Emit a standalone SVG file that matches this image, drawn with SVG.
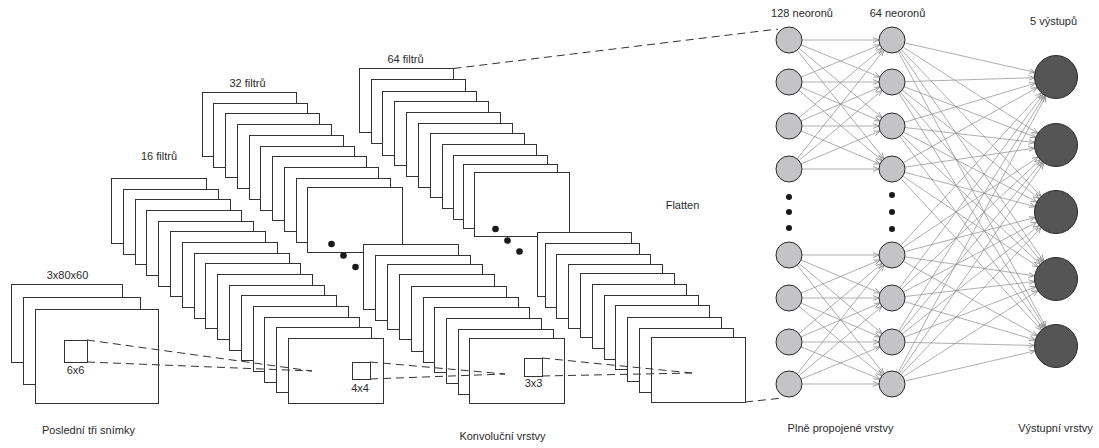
<svg xmlns="http://www.w3.org/2000/svg" width="1099" height="448" viewBox="0 0 1099 448">
<style>
.bg{fill:#fff}
.fr{fill:#fff;stroke:#333;stroke-width:1}
.sq{fill:none;stroke:#333;stroke-width:1}
.dot{fill:#1a1a1a}
.dash{fill:none;stroke:#333;stroke-width:1;stroke-dasharray:8 5}
.t{font-family:"Liberation Sans",Arial,sans-serif;font-size:11px;fill:#2a2a2a;text-anchor:middle}
.e{stroke:#8c8c8c;stroke-width:0.7;fill:none;marker-end:url(#arr)}
.n{fill:#c4c4c6;stroke:#2a2a2a;stroke-width:1}
.o{fill:#555;stroke:#2a2a2a;stroke-width:1}
</style>
<defs>
<marker id="arr" markerWidth="8" markerHeight="8" refX="6" refY="3" orient="auto" markerUnits="userSpaceOnUse"><path d="M0,0.6 L6,3 L0,5.4" fill="none" stroke="#8c8c8c" stroke-width="0.8"/></marker>
</defs>
<rect class="bg" x="0" y="0" width="1099" height="448"/>

<g id="input" transform="translate(0.5 0.5)">
<rect class="fr" x="11" y="284" width="111" height="78"/>
<rect class="fr" x="23" y="297" width="117" height="87"/>
<rect class="fr" x="35" y="309" width="123" height="94"/>
</g>

<g id="conv16" transform="translate(0.5 0.5)">
<rect class="fr" x="111" y="178" width="95" height="65"/>
<rect class="fr" x="123" y="189" width="95" height="65"/>
<rect class="fr" x="135" y="199" width="95" height="65"/>
<rect class="fr" x="146" y="210" width="95" height="65"/>
<rect class="fr" x="158" y="221" width="95" height="65"/>
<rect class="fr" x="170" y="231" width="95" height="65"/>
<rect class="fr" x="182" y="242" width="95" height="65"/>
<rect class="fr" x="194" y="253" width="95" height="65"/>
<rect class="fr" x="205" y="263" width="95" height="65"/>
<rect class="fr" x="217" y="274" width="95" height="65"/>
<rect class="fr" x="229" y="285" width="95" height="65"/>
<rect class="fr" x="241" y="295" width="95" height="65"/>
<rect class="fr" x="253" y="306" width="95" height="65"/>
<rect class="fr" x="264" y="317" width="95" height="65"/>
<rect class="fr" x="276" y="327" width="95" height="65"/>
<rect class="fr" x="288" y="338" width="95" height="65"/>
</g>

<g id="conv32" transform="translate(0.5 0.5)">
<rect class="fr" x="202" y="92" width="94" height="64"/>
<rect class="fr" x="213" y="103" width="94" height="64"/>
<rect class="fr" x="225" y="113" width="94" height="64"/>
<rect class="fr" x="237" y="124" width="94" height="64"/>
<rect class="fr" x="249" y="135" width="94" height="64"/>
<rect class="fr" x="260" y="146" width="94" height="64"/>
<rect class="fr" x="272" y="156" width="94" height="64"/>
<rect class="fr" x="284" y="167" width="94" height="64"/>
<rect class="fr" x="296" y="178" width="94" height="64"/>
<rect class="fr" x="307" y="187" width="95" height="65"/>
<circle class="dot" cx="331" cy="243.5" r="3.3"/>
<circle class="dot" cx="343" cy="255" r="3.3"/>
<circle class="dot" cx="355" cy="266.5" r="3.3"/>
<rect class="fr" x="363" y="244" width="95" height="65"/>
<rect class="fr" x="375" y="255" width="95" height="65"/>
<rect class="fr" x="387" y="264" width="95" height="65"/>
<rect class="fr" x="399" y="274" width="95" height="65"/>
<rect class="fr" x="411" y="286" width="95" height="65"/>
<rect class="fr" x="423" y="297" width="95" height="65"/>
<rect class="fr" x="434" y="307" width="95" height="65"/>
<rect class="fr" x="446" y="318" width="95" height="65"/>
<rect class="fr" x="458" y="329" width="95" height="65"/>
<rect class="fr" x="469" y="338" width="95" height="65"/>
</g>

<g id="conv64" transform="translate(0.5 0.5)">
<rect class="fr" x="359" y="68" width="94" height="64"/>
<rect class="fr" x="371" y="79" width="94" height="64"/>
<rect class="fr" x="382" y="91" width="94" height="64"/>
<rect class="fr" x="394" y="101" width="94" height="64"/>
<rect class="fr" x="406" y="112" width="94" height="64"/>
<rect class="fr" x="418" y="123" width="94" height="64"/>
<rect class="fr" x="430" y="133" width="94" height="64"/>
<rect class="fr" x="442" y="144" width="94" height="64"/>
<rect class="fr" x="453" y="155" width="94" height="64"/>
<rect class="fr" x="463" y="164" width="94" height="64"/>
<rect class="fr" x="474" y="172" width="95" height="64"/>
<circle class="dot" cx="495" cy="228.5" r="3.3"/>
<circle class="dot" cx="507" cy="240" r="3.3"/>
<circle class="dot" cx="519" cy="251" r="3.3"/>
<rect class="fr" x="537" y="232" width="94" height="64"/>
<rect class="fr" x="545" y="243" width="94" height="64"/>
<rect class="fr" x="556" y="254" width="94" height="64"/>
<rect class="fr" x="568" y="264" width="94" height="64"/>
<rect class="fr" x="580" y="273" width="94" height="64"/>
<rect class="fr" x="592" y="284" width="94" height="64"/>
<rect class="fr" x="604" y="295" width="94" height="64"/>
<rect class="fr" x="615" y="305" width="94" height="64"/>
<rect class="fr" x="627" y="317" width="94" height="64"/>
<rect class="fr" x="639" y="328" width="94" height="64"/>
<rect class="fr" x="651" y="337" width="94" height="65"/>
</g>

<g id="kernels" transform="translate(0.5 0.5)">
<rect class="sq" x="64" y="340" width="23" height="22"/>
<rect class="sq" x="352" y="362" width="18" height="17"/>
<rect class="sq" x="524" y="358" width="18" height="18"/>
</g>

<g id="connectors">
<line class="dash" x1="87" y1="340" x2="312" y2="371"/>
<line class="dash" x1="87" y1="362" x2="312" y2="371"/>
<line class="dash" x1="370" y1="362" x2="505" y2="374"/>
<line class="dash" x1="370" y1="379" x2="505" y2="374"/>
<line class="dash" x1="542" y1="358" x2="692" y2="373"/>
<line class="dash" x1="542" y1="376" x2="692" y2="373"/>
<line class="dash" x1="453.5" y1="68.5" x2="778" y2="29"/>
<line class="dash" x1="745" y1="402" x2="783" y2="398"/>

<line class="e" x1="802" y1="40" x2="879" y2="40"/>
<line class="e" x1="801" y1="44.9" x2="880" y2="77.1"/>
<line class="e" x1="799" y1="48.3" x2="882" y2="117.7"/>
<line class="e" x1="797.1" y1="50.2" x2="883.9" y2="158.8"/>
<line class="e" x1="801" y1="77.1" x2="880" y2="44.9"/>
<line class="e" x1="802" y1="82" x2="879" y2="82"/>
<line class="e" x1="801" y1="87.1" x2="880" y2="120.9"/>
<line class="e" x1="798.9" y1="90.4" x2="882.1" y2="160.6"/>
<line class="e" x1="799" y1="117.7" x2="882" y2="48.3"/>
<line class="e" x1="801" y1="120.9" x2="880" y2="87.1"/>
<line class="e" x1="802" y1="126" x2="879" y2="126"/>
<line class="e" x1="801" y1="131" x2="880" y2="164"/>
<line class="e" x1="797.1" y1="158.8" x2="883.9" y2="50.2"/>
<line class="e" x1="798.9" y1="160.6" x2="882.1" y2="90.4"/>
<line class="e" x1="801" y1="164" x2="880" y2="131"/>
<line class="e" x1="802" y1="169" x2="879" y2="169"/>

<line class="e" x1="802" y1="255" x2="879" y2="255"/>
<line class="e" x1="801" y1="260" x2="880" y2="293"/>
<line class="e" x1="798.9" y1="263.4" x2="882.1" y2="333.6"/>
<line class="e" x1="797.1" y1="265.2" x2="883.9" y2="373.8"/>
<line class="e" x1="801" y1="293" x2="880" y2="260"/>
<line class="e" x1="802" y1="298" x2="879" y2="298"/>
<line class="e" x1="801" y1="303.1" x2="880" y2="336.9"/>
<line class="e" x1="799" y1="306.3" x2="882" y2="375.7"/>
<line class="e" x1="798.9" y1="333.6" x2="882.1" y2="263.4"/>
<line class="e" x1="801" y1="336.9" x2="880" y2="303.1"/>
<line class="e" x1="802" y1="342" x2="879" y2="342"/>
<line class="e" x1="801" y1="346.9" x2="880" y2="379.1"/>
<line class="e" x1="797.1" y1="373.8" x2="883.9" y2="265.2"/>
<line class="e" x1="799" y1="375.7" x2="882" y2="306.3"/>
<line class="e" x1="801" y1="379.1" x2="880" y2="346.9"/>
<line class="e" x1="802" y1="384" x2="879" y2="384"/>

<line class="e" x1="904.7" y1="42.9" x2="1035" y2="72.3"/>
<line class="e" x1="903" y1="47" x2="1037.9" y2="133.4"/>
<line class="e" x1="901" y1="49.4" x2="1041.2" y2="196.4"/>
<line class="e" x1="899.4" y1="50.7" x2="1043.8" y2="261.3"/>
<line class="e" x1="898.1" y1="51.5" x2="1045.8" y2="327.1"/>
<line class="e" x1="905" y1="81.6" x2="1034.5" y2="77.7"/>
<line class="e" x1="904.1" y1="86.7" x2="1035.9" y2="137.3"/>
<line class="e" x1="902.2" y1="90.1" x2="1039.2" y2="198.6"/>
<line class="e" x1="900.3" y1="92" x2="1042.2" y2="262.5"/>
<line class="e" x1="898.9" y1="93" x2="1044.7" y2="327.7"/>
<line class="e" x1="904.5" y1="122.3" x2="1035.4" y2="83.2"/>
<line class="e" x1="904.9" y1="127.5" x2="1034.6" y2="142.5"/>
<line class="e" x1="903.5" y1="132" x2="1037" y2="202"/>
<line class="e" x1="901.5" y1="134.9" x2="1040.3" y2="264.3"/>
<line class="e" x1="899.8" y1="136.4" x2="1043.2" y2="328.8"/>
<line class="e" x1="903.3" y1="162.6" x2="1037.3" y2="87.5"/>
<line class="e" x1="904.9" y1="167.1" x2="1034.7" y2="148.1"/>
<line class="e" x1="904.6" y1="172.3" x2="1035.2" y2="206.6"/>
<line class="e" x1="902.8" y1="176.2" x2="1038.1" y2="267"/>
<line class="e" x1="900.8" y1="178.5" x2="1041.4" y2="330.2"/>
<line class="e" x1="900.8" y1="245.4" x2="1041.4" y2="92.8"/>
<line class="e" x1="902.8" y1="247.8" x2="1038.1" y2="157"/>
<line class="e" x1="904.6" y1="251.7" x2="1035.2" y2="217.5"/>
<line class="e" x1="904.9" y1="256.9" x2="1034.7" y2="275.9"/>
<line class="e" x1="903.4" y1="261.3" x2="1037.2" y2="335.6"/>
<line class="e" x1="899.8" y1="287.6" x2="1043.2" y2="94.3"/>
<line class="e" x1="901.5" y1="289.1" x2="1040.3" y2="159.7"/>
<line class="e" x1="903.5" y1="292" x2="1037" y2="222"/>
<line class="e" x1="904.9" y1="296.5" x2="1034.6" y2="281.5"/>
<line class="e" x1="904.5" y1="301.7" x2="1035.4" y2="340"/>
<line class="e" x1="898.8" y1="331" x2="1044.7" y2="95.3"/>
<line class="e" x1="900.3" y1="332" x2="1042.2" y2="161.5"/>
<line class="e" x1="902.2" y1="333.9" x2="1039.2" y2="225.4"/>
<line class="e" x1="904.1" y1="337.3" x2="1035.9" y2="286.7"/>
<line class="e" x1="905" y1="342.3" x2="1034.5" y2="345.5"/>
<line class="e" x1="898.1" y1="372.5" x2="1045.9" y2="96"/>
<line class="e" x1="899.4" y1="373.3" x2="1043.8" y2="162.7"/>
<line class="e" x1="901" y1="374.6" x2="1041.2" y2="227.6"/>
<line class="e" x1="903" y1="377" x2="1037.9" y2="290.6"/>
<line class="e" x1="904.7" y1="381.1" x2="1035.1" y2="350.9"/>
</g>

<g id="layer128">
<circle class="n" cx="789" cy="40" r="13"/>
<circle class="n" cx="789" cy="82" r="13"/>
<circle class="n" cx="789" cy="126" r="13"/>
<circle class="n" cx="789" cy="169" r="13"/>
<circle class="dot" cx="789" cy="197" r="3"/>
<circle class="dot" cx="789" cy="212" r="3"/>
<circle class="dot" cx="789" cy="228" r="3"/>
<circle class="n" cx="789" cy="255" r="13"/>
<circle class="n" cx="789" cy="298" r="13"/>
<circle class="n" cx="789" cy="342" r="13"/>
<circle class="n" cx="789" cy="384" r="13"/>
</g>
<g id="layer64">
<circle class="n" cx="892" cy="40" r="13"/>
<circle class="n" cx="892" cy="82" r="13"/>
<circle class="n" cx="892" cy="126" r="13"/>
<circle class="n" cx="892" cy="169" r="13"/>
<circle class="dot" cx="892" cy="195" r="3"/>
<circle class="dot" cx="892" cy="212" r="3"/>
<circle class="dot" cx="892" cy="229" r="3"/>
<circle class="n" cx="892" cy="255" r="13"/>
<circle class="n" cx="892" cy="298" r="13"/>
<circle class="n" cx="892" cy="342" r="13"/>
<circle class="n" cx="892" cy="384" r="13"/>
</g>
<g id="outputs">
<circle class="o" cx="1056" cy="77" r="21.5"/>
<circle class="o" cx="1056" cy="145" r="21.5"/>
<circle class="o" cx="1056" cy="212" r="21.5"/>
<circle class="o" cx="1056" cy="279" r="21.5"/>
<circle class="o" cx="1056" cy="346" r="21.5"/>
</g>

<g id="labels">
<text class="t" x="67.5" y="278.5">3x80x60</text>
<text class="t" x="75.5" y="373.5">6x6</text>
<text class="t" x="159" y="160">16 filtrů</text>
<text class="t" x="247.5" y="86.5">32 filtrů</text>
<text class="t" x="405.5" y="63">64 filtrů</text>
<text class="t" x="360" y="392">4x4</text>
<text class="t" x="533.5" y="387">3x3</text>
<text class="t" x="682.5" y="208.5">Flatten</text>
<text class="t" x="802" y="17">128 neoronů</text>
<text class="t" x="897.5" y="17">64 neoronů</text>
<text class="t" x="1053.5" y="25">5 výstupů</text>
<text class="t" x="88.5" y="433.5">Poslední tři snímky</text>
<text class="t" x="502.5" y="440">Konvoluční vrstvy</text>
<text class="t" x="840.5" y="432">Plně propojené vrstvy</text>
<text class="t" x="1055.5" y="432">Výstupní vrstvy</text>
</g>
</svg>
